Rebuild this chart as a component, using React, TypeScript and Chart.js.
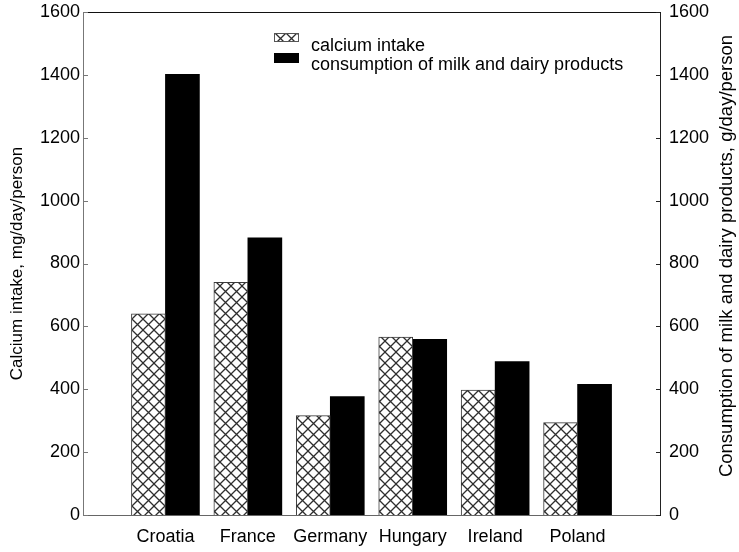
import { useEffect, useRef } from 'react';
import { Chart, registerables } from 'chart.js';

Chart.register(...registerables);

// Countries (empty slots pad the axis at both ends)
const categories = ['', 'Croatia', 'France', 'Germany', 'Hungary', 'Ireland', 'Poland', ''];
// Calcium intake, mg/day/person
const calciumIntake = [null, 640, 740, 316, 566, 397, 294, null];
// Consumption of milk and dairy products, g/day/person
const milkConsumption = [null, 1402, 882, 377, 559, 488, 416, null];
// Shared tick values for both vertical axes
const yTicks = [0, 200, 400, 600, 800, 1000, 1200, 1400, 1600];

const seriesLabels = ['calcium intake', 'consumption of milk and dairy products'];
const leftTitle = 'Calcium intake, mg/day/person';
const rightTitle = 'Consumption of milk and dairy products, g/day/person';

const FONT = '"Liberation Sans", Arial, sans-serif';

function makeCrossHatch(): CanvasPattern {
  const size = 11;
  const c = document.createElement('canvas');
  c.width = size;
  c.height = size;
  const g = c.getContext('2d')!;
  g.fillStyle = '#ffffff';
  g.fillRect(0, 0, size, size);
  g.strokeStyle = '#2e2e2e';
  g.lineWidth = 1.3;
  g.beginPath();
  g.moveTo(-2, -2);
  g.lineTo(size + 2, size + 2);
  g.moveTo(size + 2, -2);
  g.lineTo(-2, size + 2);
  g.stroke();
  return g.createPattern(c, 'repeat')!;
}

// Top frame line and inward tick marks on both vertical axes
const frameTicks = {
  id: 'frameTicks',
  afterDraw(chart: any) {
    const { ctx, chartArea: a, scales } = chart;
    ctx.save();
    ctx.lineWidth = 1;
    ctx.strokeStyle = '#111';
    ctx.beginPath();
    ctx.moveTo(a.left, a.top + 0.5);
    ctx.lineTo(a.right + 1, a.top + 0.5);
    ctx.stroke();
    yTicks.forEach((v) => {
      const pl = Math.round(scales.y.getPixelForValue(v)) + 0.5;
      ctx.strokeStyle = '#777';
      ctx.beginPath();
      ctx.moveTo(a.left, pl);
      ctx.lineTo(a.left + 5, pl);
      ctx.stroke();
      const pr = Math.round(scales.y2.getPixelForValue(v)) + 0.5;
      ctx.strokeStyle = '#222';
      ctx.beginPath();
      ctx.moveTo(a.right + 0.5, pr);
      ctx.lineTo(a.right - 4, pr);
      ctx.stroke();
    });
    ctx.restore();
  },
};

// Right-hand axis title, reading bottom to top
const rightAxisTitle = {
  id: 'rightAxisTitle',
  afterDraw(chart: any) {
    const { ctx } = chart;
    ctx.save();
    ctx.translate(727, 256);
    ctx.rotate(-Math.PI / 2);
    ctx.font = `18.5px ${FONT}`;
    ctx.fillStyle = '#000';
    ctx.textAlign = 'center';
    ctx.textBaseline = 'middle';
    ctx.fillText(rightTitle, 0, 0);
    ctx.restore();
  },
};

// Legend inside the plot area
const innerLegend = {
  id: 'innerLegend',
  afterDraw(chart: any) {
    const { ctx } = chart;
    const ds = chart.data.datasets;
    const boxX = 274;
    const rows = [
      { boxY: 33, boxH: 9, base: 50.5 },
      { boxY: 53, boxH: 10, base: 69.5 },
    ];
    ctx.save();
    ds.forEach((d: any, i: number) => {
      const r = rows[i];
      ctx.fillStyle = d.backgroundColor;
      ctx.fillRect(boxX, r.boxY, 25, r.boxH);
      if (d.borderWidth) {
        ctx.strokeStyle = '#555';
        ctx.lineWidth = 1;
        ctx.strokeRect(boxX + 0.5, r.boxY + 0.5, 24, r.boxH - 1);
      }
      ctx.fillStyle = '#000';
      ctx.font = `18px ${FONT}`;
      ctx.textAlign = 'left';
      ctx.textBaseline = 'alphabetic';
      ctx.fillText(d.label, 311, r.base);
    });
    ctx.restore();
  },
};

const plainNumber = (v: any) => String(v);

export default function App() {
  const ref = useRef<HTMLCanvasElement | null>(null);

  useEffect(() => {
    document.body.style.margin = '0';
    const canvas = ref.current;
    if (!canvas) return;
    const hatch = makeCrossHatch();

    const chart = new Chart(canvas, {
      type: 'bar',
      data: {
        labels: categories,
        datasets: [
          {
            label: seriesLabels[0],
            data: calciumIntake as any,
            backgroundColor: hatch as any,
            borderColor: '#3a3a3a',
            borderWidth: 1,
            yAxisID: 'y',
            barThickness: 34,
          },
          {
            label: seriesLabels[1],
            data: milkConsumption as any,
            backgroundColor: '#000000',
            borderWidth: 0,
            yAxisID: 'y2',
            barThickness: 34,
          },
        ],
      },
      options: {
        responsive: false,
        animation: false,
        devicePixelRatio: 1,
        layout: { padding: { top: 12, left: 0, right: 0, bottom: 0 } },
        plugins: {
          legend: { display: false },
          tooltip: { enabled: false },
        },
        scales: {
          x: {
            type: 'category',
            offset: false,
            grid: { display: false, drawTicks: false, tickLength: 0 },
            border: { display: true, color: '#666', width: 1 },
            ticks: {
              color: '#000',
              font: { family: FONT, size: 18 },
              padding: 11,
              maxRotation: 0,
              autoSkip: false,
            },
            afterFit: (s: any) => {
              s.height = 37;
              s.paddingLeft = 0;
              s.paddingRight = 0;
            },
          },
          y: {
            position: 'left',
            min: 0,
            max: 1600,
            afterBuildTicks: (s: any) => {
              s.ticks = yTicks.map((v) => ({ value: v }));
            },
            grid: { display: false, drawTicks: false, tickLength: 0 },
            border: { display: true, color: '#777', width: 1 },
            ticks: {
              color: '#000',
              font: { family: FONT, size: 18 },
              padding: 3,
              callback: plainNumber,
            },
            title: {
              display: true,
              text: leftTitle,
              color: '#000',
              font: { family: FONT, size: 17 },
              padding: { top: 7, bottom: 0 },
            },
            afterFit: (s: any) => {
              s.width = 83;
              s.paddingTop = 0;
              s.paddingBottom = 0;
            },
          },
          y2: {
            position: 'right',
            min: 0,
            max: 1600,
            afterBuildTicks: (s: any) => {
              s.ticks = yTicks.map((v) => ({ value: v }));
            },
            grid: { display: false, drawTicks: false, tickLength: 0 },
            border: { display: true, color: '#222', width: 1 },
            ticks: {
              color: '#000',
              font: { family: FONT, size: 18 },
              padding: 9,
              callback: plainNumber,
            },
            afterFit: (s: any) => {
              s.width = 79;
              s.paddingTop = 0;
              s.paddingBottom = 0;
            },
          },
        },
      },
      plugins: [frameTicks, innerLegend, rightAxisTitle],
    });

    return () => chart.destroy();
  }, []);

  return (
    <div style={{ width: 739, height: 552 }}>
      <canvas ref={ref} width={739} height={552} />
    </div>
  );
}
